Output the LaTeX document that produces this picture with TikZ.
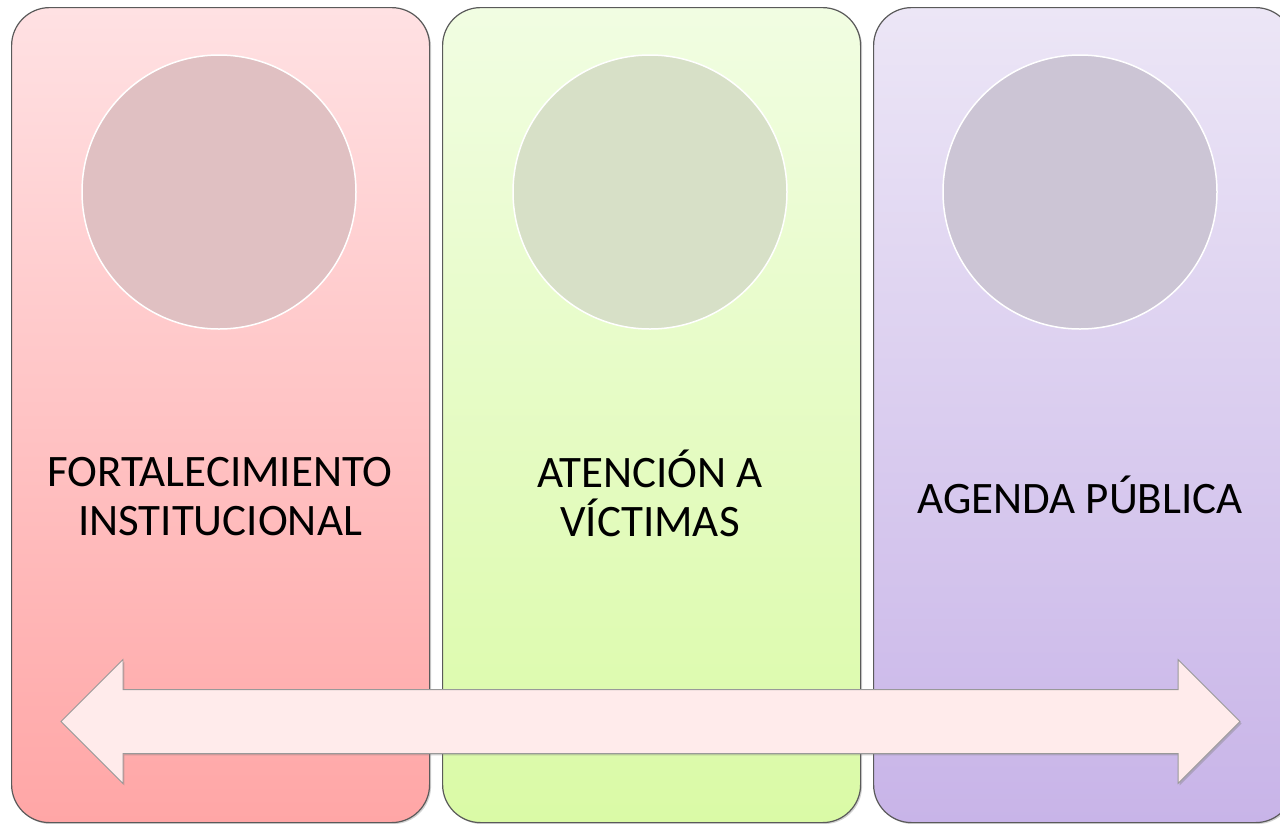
\documentclass[tikz,border=0pt]{standalone}
\usepackage{fontspec}
\setmainfont{Carlito}
\usetikzlibrary{shapes.arrows,shadows}
\definecolor{pAtop}{HTML}{FFE1E3}
\definecolor{pAbot}{HTML}{FFA6A6}
\definecolor{pBtop}{HTML}{F1FDE2}
\definecolor{pBbot}{HTML}{DAFAA6}
\definecolor{pCtop}{HTML}{ECE6F6}
\definecolor{pCbot}{HTML}{C8B4E8}
\definecolor{cA}{HTML}{E0C0C2}
\definecolor{cB}{HTML}{D7E0C7}
\definecolor{cC}{HTML}{CCC5D5}
\definecolor{arrfill}{HTML}{FFEBEB}
\definecolor{edge}{HTML}{5A5A5A}
\tikzset{
  panel/.style={rectangle, rounded corners=38pt, draw=edge, line width=1.2pt,
    minimum width=418pt, minimum height=815pt, anchor=north west,
    drop shadow={shadow xshift=1.5pt, shadow yshift=-1.5pt, opacity=0.35}},
  disc/.style={circle, draw=white, line width=1.5pt, minimum size=274pt, inner sep=0pt},
  label/.style={font=\fontsize{45}{49}\selectfont, align=center, text=black},
}
\begin{document}
\begin{tikzpicture}[x=1pt,y=-1pt]
\clip (0,0) rectangle (1280,823);
\fill[white] (0,0) rectangle (1280,823);
\node[panel, top color=pAtop, bottom color=pAbot] (p1) at (11,7) {};
\node[panel, top color=pBtop, bottom color=pBbot] (p2) at (442,7) {};
\node[panel, top color=pCtop, bottom color=pCbot, minimum width=420pt] (p3) at (873,7) {};
\node[disc, fill=cA] (c1) at (219,192) {};
\node[disc, fill=cB] (c2) at (650,192) {};
\node[disc, fill=cC] (c3) at (1080,192) {};
\node[label] (t1) at (220,497) {FORTALECIMIENTO\\INSTITUCIONAL};
\node[label] (t2) at (650,493) {ATENCIÓN A\\VÍCTIMAS};
\node[label] (t3) at (1080,495) {AGENDA PÚBLICA};
\node[double arrow, fill=arrfill, draw=gray!80, line width=0.8pt,
  minimum height=1179pt, inner xsep=0pt, inner ysep=31.5pt,
  double arrow head extend=30pt, double arrow tip angle=90,
  drop shadow={shadow xshift=1.5pt, shadow yshift=-2pt, opacity=0.4}] (arr) at (650.5,721.5) {};
\end{tikzpicture}
\end{document}
